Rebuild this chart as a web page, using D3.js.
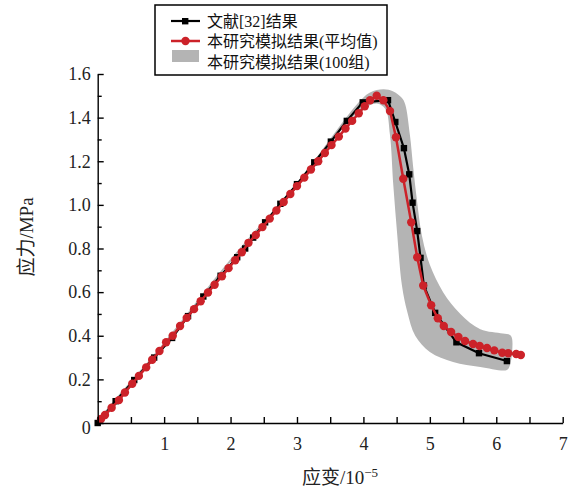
<!DOCTYPE html>
<meta charset="utf-8">
<script src="https://d3js.org/d3.v7.min.js"></script>
<style>
  body { margin: 0; background: #fff; }
  .axis text { font-family: "Liberation Serif", serif; font-size: 18px; fill: #222; }
  .axis path, .axis line { stroke: #000; stroke-width: 1.4px; }
  .title { font-family: "Liberation Serif", "Noto Sans CJK SC", serif; font-size: 19px; fill: #222; }
  .legend text { font-family: "Liberation Serif", "Noto Sans CJK SC", serif; font-size: 16px; fill: #111; }
</style>
<body>
<div id="chart"></div>
<script>
  var width = 587,
      height = 490;

  // 文献[32]结果
  var refX = [0, 0.27, 0.55, 0.85, 1.12, 1.36, 1.59, 1.85, 2.1, 2.22, 2.34, 2.52, 2.75, 3.0, 3.26, 3.51, 3.75, 3.99,
              4.37, 4.48, 4.61, 4.69, 4.74, 4.81, 4.86, 4.91, 5.08, 5.40, 5.74, 6.16];
  var refY = [0, 0.10, 0.197, 0.30, 0.39, 0.49, 0.58, 0.675, 0.76, 0.80, 0.85, 0.92, 1.005, 1.095, 1.195, 1.29, 1.385, 1.47,
              1.48, 1.38, 1.26, 1.14, 1.01, 0.88, 0.757, 0.63, 0.505, 0.37, 0.32, 0.284];

  // 本研究模拟结果(平均值)
  var simX = [0.05, 0.11, 0.21, 0.32, 0.41, 0.52, 0.62, 0.73, 0.82, 0.93, 1.03, 1.13, 1.24, 1.34, 1.45, 1.55, 1.66, 1.76,
              1.87, 1.97, 2.07, 2.17, 2.27, 2.38, 2.48, 2.59, 2.69, 2.80, 2.90, 3.00, 3.11, 3.21, 3.32, 3.42, 3.52, 3.63,
              3.73, 3.83, 3.93, 4.02, 4.10, 4.20, 4.30, 4.40, 4.49, 4.60, 4.72, 4.81, 4.90, 5.02, 5.12, 5.21, 5.32, 5.43,
              5.53, 5.65, 5.75, 5.86, 5.97, 6.09, 6.18, 6.30, 6.37];
  var simY = [0.018, 0.037, 0.07, 0.105, 0.14, 0.18, 0.216, 0.255, 0.29, 0.33, 0.37, 0.40, 0.445, 0.482, 0.522, 0.558, 0.598,
              0.634, 0.673, 0.71, 0.746, 0.783, 0.826, 0.862, 0.898, 0.937, 0.974, 1.013, 1.05, 1.086, 1.125, 1.162, 1.2,
              1.238, 1.274, 1.313, 1.35, 1.385, 1.42, 1.452, 1.48, 1.50, 1.48, 1.43, 1.31, 1.12, 0.92, 0.76, 0.63, 0.54,
              0.48, 0.445, 0.417, 0.394, 0.376, 0.362, 0.353, 0.344, 0.333, 0.322, 0.32, 0.316, 0.312];

  // 本研究模拟结果(100组) — outer edge then inner edge
  var bandUpperX = [0, 1, 2, 3, 3.9, 4.1, 4.3, 4.45, 4.58, 4.63, 4.70, 4.75, 4.81, 4.88, 5.0, 5.2, 5.46, 5.76, 6.1, 6.22, 6.24, 6.2];
  var bandUpperY = [0.005, 0.37, 0.752, 1.10, 1.46, 1.515, 1.53, 1.52, 1.49, 1.46, 1.32, 1.17, 1.01, 0.86, 0.725, 0.60, 0.50, 0.43, 0.41, 0.40, 0.33, 0.26];
  var bandLowerX = [6.16, 5.76, 5.35, 5.0, 4.78, 4.66, 4.58, 4.51, 4.45, 4.40, 4.33, 4.2, 4.0, 3.8, 3.0, 2.0, 1.0, 0.05];
  var bandLowerY = [0.243, 0.257, 0.28, 0.326, 0.40, 0.51, 0.63, 0.86, 1.09, 1.32, 1.44, 1.465, 1.44, 1.39, 1.078, 0.738, 0.352, 0.01];

  var xTicks = d3.range(0, 15).map(function(i) { return i * 0.5; });
  var yTicks = d3.range(0, 17).map(function(i) { return i / 10; });

  var svg = d3.select("#chart")
      .append("svg")
      .attr("width", width)
      .attr("height", height);

  var x = d3.scaleLinear().domain([0, 7]).range([97.7, 562.7]);
  var y = d3.scaleLinear().domain([0, 1.6]).range([423, 74]);

  function pts(xs, ys) { return xs.map(function(d, i) { return [d, ys[i]]; }); }

  var line = d3.line()
      .x(function(d) { return x(d[0]); })
      .y(function(d) { return y(d[1]); });

  // gray band
  var band = pts(bandUpperX, bandUpperY).concat(pts(bandLowerX, bandLowerY));
  svg.append("path")
      .attr("d", d3.line()
          .x(function(d) { return x(d[0]); })
          .y(function(d) { return y(d[1]); })
          .curve(d3.curveCatmullRomClosed)(band))
      .attr("fill", "#b4b4b4")
      .attr("stroke", "none");

  // black literature curve
  var ref = pts(refX, refY);
  svg.append("path")
      .attr("d", line(ref))
      .attr("fill", "none")
      .attr("stroke", "#000")
      .attr("stroke-width", 2.2);
  svg.append("g").selectAll("rect")
      .data(ref)
    .enter().append("rect")
      .attr("x", function(d) { return x(d[0]) - 3.2; })
      .attr("y", function(d) { return y(d[1]) - 3.2; })
      .attr("width", 6.4)
      .attr("height", 6.4)
      .attr("fill", "#000");

  // red simulation mean
  var sim = pts(simX, simY);
  svg.append("path")
      .attr("d", line(sim))
      .attr("fill", "none")
      .attr("stroke", "#cc2229")
      .attr("stroke-width", 2.5);
  svg.append("g").selectAll("circle")
      .data(sim)
    .enter().append("circle")
      .attr("cx", function(d) { return x(d[0]); })
      .attr("cy", function(d) { return y(d[1]); })
      .attr("r", 4.2)
      .attr("fill", "#cc2229");

  // axes
  var xAxis = svg.append("g")
      .attr("class", "axis")
      .attr("transform", "translate(0,423)")
      .call(d3.axisBottom(x)
        .tickValues(xTicks)
        .tickSizeInner(-6)
        .tickSizeOuter(0)
        .tickPadding(14)
        .tickFormat(function(d) { return (Number.isInteger(d) && d > 0) ? d : ""; }));

  var yAxis = svg.append("g")
      .attr("class", "axis")
      .attr("transform", "translate(97.7,0)")
      .call(d3.axisLeft(y)
        .tickValues(yTicks)
        .tickSizeInner(-6)
        .tickSizeOuter(0)
        .tickPadding(7)
        .tickFormat(function(d, i) { return i % 2 ? "" : (d === 0 ? "0" : d.toFixed(1)); }));

  yAxis.selectAll(".tick line")
      .attr("x2", function(d, i) { return i % 2 ? 4 : 6; });
  yAxis.selectAll(".tick").filter(function(d) { return d === 0; })
      .select("text").attr("dy", "0.6em");

  // axis titles
  svg.append("text")
      .attr("class", "title")
      .attr("transform", "translate(33,237) rotate(-90)")
      .attr("text-anchor", "middle")
      .text("应力/MPa");

  var xt = svg.append("text")
      .attr("class", "title")
      .attr("x", 340)
      .attr("y", 484)
      .attr("text-anchor", "middle");
  xt.append("tspan").text("应变/10");
  xt.append("tspan").attr("dy", -7).style("font-size", "13px").text("−5");

  // legend
  var legend = svg.append("g").attr("class", "legend");
  legend.append("rect")
      .attr("x", 155).attr("y", 5)
      .attr("width", 232).attr("height", 70)
      .attr("fill", "#fff")
      .attr("stroke", "#000")
      .attr("stroke-width", 1.5);

  legend.append("line")
      .attr("x1", 171).attr("x2", 200).attr("y1", 21).attr("y2", 21)
      .attr("stroke", "#000").attr("stroke-width", 2.2);
  legend.append("rect")
      .attr("x", 182).attr("y", 18).attr("width", 6.4).attr("height", 6.4)
      .attr("fill", "#000");
  legend.append("text").attr("x", 207).attr("y", 27).text("文献[32]结果");

  legend.append("line")
      .attr("x1", 171).attr("x2", 200).attr("y1", 41).attr("y2", 41)
      .attr("stroke", "#cc2229").attr("stroke-width", 2.5);
  legend.append("circle")
      .attr("cx", 185.5).attr("cy", 41).attr("r", 4.2)
      .attr("fill", "#cc2229");
  legend.append("text").attr("x", 207).attr("y", 47).text("本研究模拟结果(平均值)");

  legend.append("rect")
      .attr("x", 172).attr("y", 50).attr("width", 27).attr("height", 12)
      .attr("fill", "#b4b4b4");
  legend.append("text").attr("x", 207).attr("y", 68).text("本研究模拟结果(100组)");
</script>
</body>
